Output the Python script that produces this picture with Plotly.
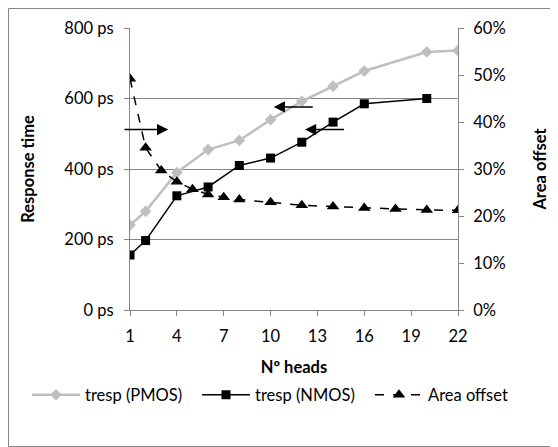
import plotly.graph_objects as go

# Data
x_pmos = [1, 2, 4, 6, 8, 10, 12, 14, 16, 20, 22]
t_pmos = [241, 280, 390, 455, 481, 540, 592, 635, 678, 732, 736]
x_nmos = [1, 2, 4, 6, 8, 10, 12, 14, 16, 20]
t_nmos = [156, 197, 324, 349, 410, 431, 476, 533, 585, 600]
x_area = [1, 2, 3, 4, 5, 6, 7, 8, 10, 12, 14, 16, 18, 20, 22]
area_off = [0.492, 0.345, 0.297, 0.273, 0.257, 0.246, 0.240, 0.235, 0.229, 0.223, 0.220, 0.217, 0.215, 0.213, 0.212]
x_ticks = [1, 4, 7, 10, 13, 16, 19, 22]
y_ticks = [0, 200, 400, 600, 800]
y2_ticks = [0, 0.1, 0.2, 0.3, 0.4, 0.5, 0.6]

FONT = "Lato"
FS = 16.5
AX = "#868686"

W, H = 550, 439
L, R, T, B = 122, 100, 20, 137
PW, PH = W - L - R, H - T - B

fig = go.Figure()
fig.add_trace(go.Scatter(x=x_pmos, y=t_pmos, name="tresp (PMOS)", mode="lines+markers",
                         line=dict(color="#BFBFBF", width=2.5), legend="legend",
                         marker=dict(symbol="diamond", size=9, color="#BFBFBF")))
fig.add_trace(go.Scatter(x=x_nmos, y=t_nmos, name="tresp (NMOS)", mode="lines+markers",
                         line=dict(color="black", width=1.5), legend="legend2",
                         marker=dict(symbol="square", size=9, color="black")))
fig.add_trace(go.Scatter(x=x_area, y=area_off, name="Area offset", mode="lines+markers",
                         yaxis="y2", legend="legend3",
                         line=dict(color="black", width=1.5, dash="dash"),
                         marker=dict(symbol="triangle-up", size=11, color="black")))

arrows = [
    dict(x=3.45, y=512, ax=0.55, ay=512),
    dict(x=10.2, y=576, ax=12.8, ay=576),
    dict(x=12.2, y=512, ax=14.8, ay=512),
]
annotations = []
for a in arrows:
    annotations.append(dict(x=a["x"], y=a["y"], ax=a["ax"], ay=a["ay"], xref="x", yref="y",
                            axref="x", ayref="y", showarrow=True, arrowhead=2, arrowsize=1.5,
                            arrowwidth=1.5, arrowcolor="black", text=""))

leg_y = -(387 - (H - B)) / PH


def leg(px):
    return dict(orientation="h", x=(px - 8 - L) / PW, xanchor="left", y=leg_y, yanchor="middle",
                font=dict(family=FONT, size=FS), itemwidth=48, bgcolor="rgba(0,0,0,0)")


fig.update_layout(
    width=W, height=H,
    margin=dict(l=L, r=R, t=T, b=B, autoexpand=False),
    paper_bgcolor="white", plot_bgcolor="white",
    font=dict(family=FONT, size=FS, color="black"),
    showlegend=True,
    legend=leg(27), legend2=leg(197), legend3=leg(370),
    xaxis=dict(range=[1, 22], tickvals=x_ticks, showgrid=False, zeroline=False,
               showline=True, linecolor=AX, linewidth=1, ticks="outside", ticklen=5,
               tickcolor=AX, ticklabelstandoff=6,
               title=dict(text="<b>Nº heads</b>", font=dict(family=FONT, size=FS), standoff=16)),
    yaxis=dict(range=[0, 800], tickvals=y_ticks, ticktext=[f"{v} ps" for v in y_ticks],
               showgrid=True, gridcolor=AX, gridwidth=1, zeroline=False,
               showline=True, linecolor=AX, ticks="outside", ticklen=5, tickcolor=AX,
               ticklabelstandoff=7,
               title=dict(text="<b>Response time</b>", font=dict(family=FONT, size=FS), standoff=25)),
    yaxis2=dict(range=[0, 0.6], tickvals=y2_ticks, ticktext=[f"{int(round(v*100))}%" for v in y2_ticks],
                overlaying="y", side="right", showgrid=False, zeroline=False,
                showline=True, linecolor=AX, ticks="outside", ticklen=5, tickcolor=AX,
                ticklabelstandoff=6,
                title=dict(text="<b>Area offset</b>", font=dict(family=FONT, size=FS), standoff=29)),
    annotations=annotations,
    shapes=[dict(type="rect", xref="paper", yref="paper",
                 x0=(0.5 - L) / PW, x1=(W - 1.5 - L) / PW,
                 y0=-(H - 0.5 - (H - B)) / PH, y1=(H - B - 0.5) / PH,
                 line=dict(color=AX, width=1), layer="below")],
)

fig.write_html("out.html")
